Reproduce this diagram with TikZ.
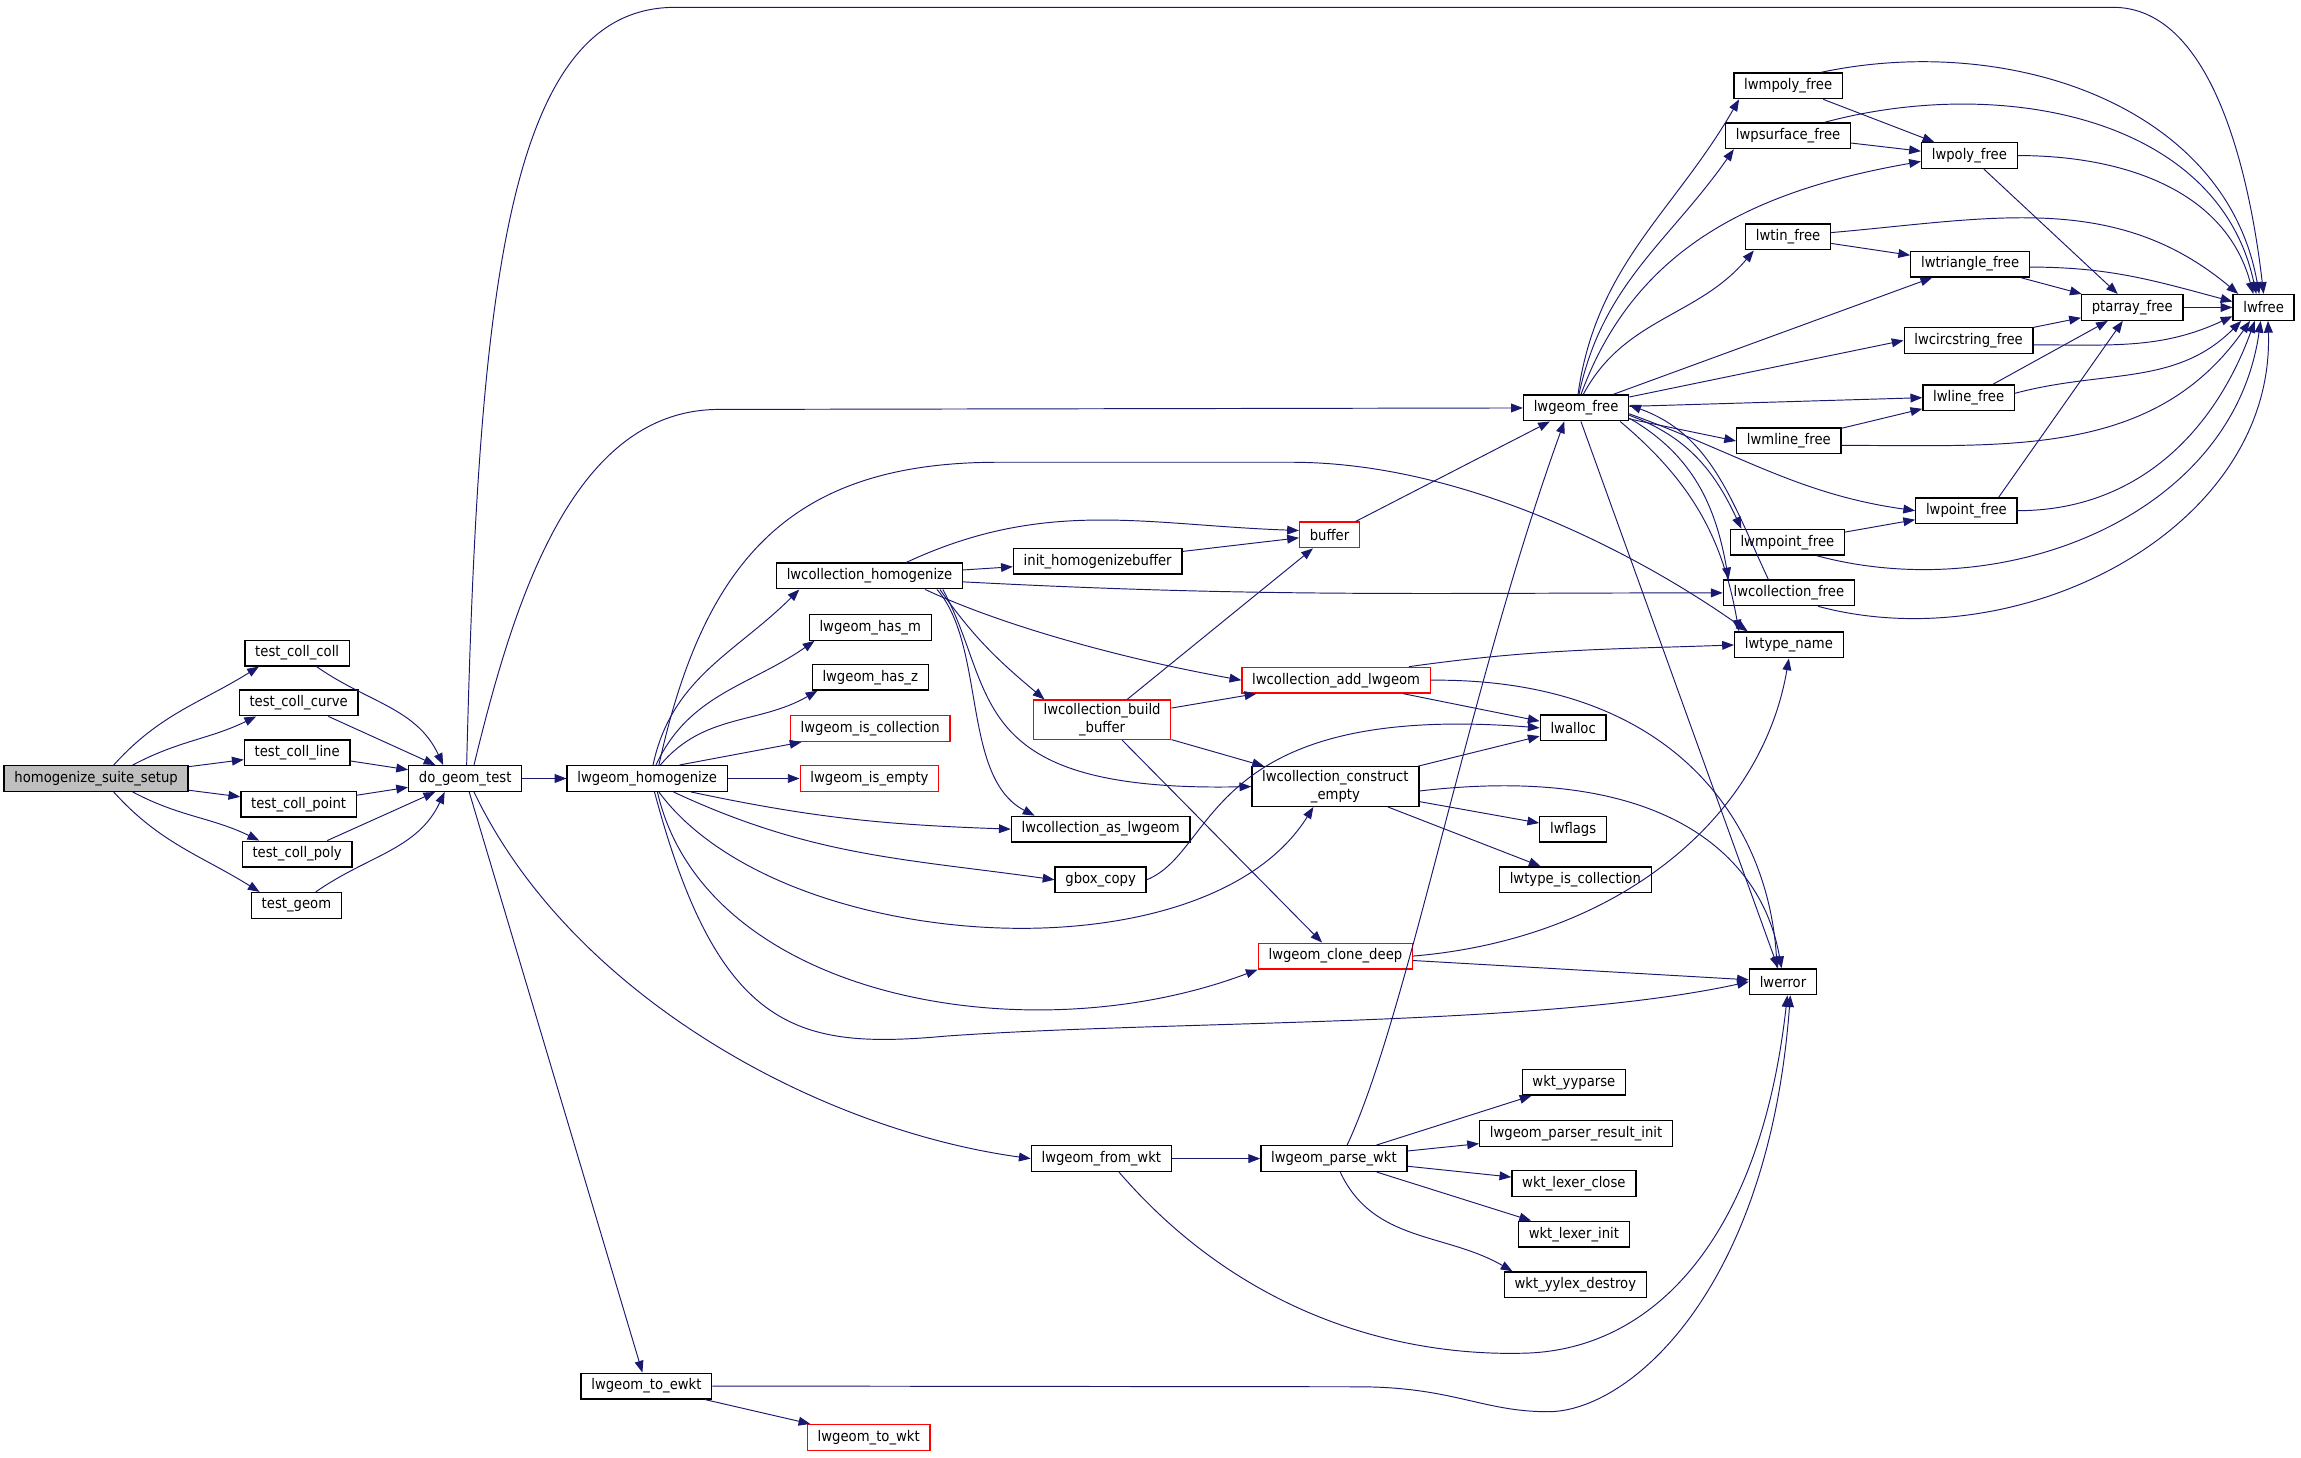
\documentclass[tikz,border=0pt]{standalone}
\usepackage{fontspec}
\setmainfont{DejaVu Sans}[FakeStretch=0.9]
\usepackage{xcolor}
\usetikzlibrary{arrows, arrows.meta}
\usetikzlibrary{calc}
\definecolor{edgeblue}{HTML}{191970}
\definecolor{rootgray}{HTML}{BFBFBF}

\begin{document}
\begin{tikzpicture}[x=1pt, y=1pt,
    fn/.style={draw=black, fill=white, line width=0.9pt, inner xsep=7pt, inner ysep=2pt, minimum height=17.5pt, font=\fontsize{10}{12}\selectfont},
    fnred/.style={fn, draw=red},
    twoline/.style={align=center, inner ysep=2.5pt},
    call/.style={draw=edgeblue, line width=0.65pt, -{Triangle[length=8pt, width=6pt]}}]
    \fill[white] (0,0) rectangle (1568,-992.9);

    \node[fn, fill=rootgray] (setup) at (65.5,-530.5) {homogenize\_suite\_setup};
    \node[fn] (tcoll) at (202.5,-445) {test\_coll\_coll};
    \node[fn] (tcurve) at (203.5,-479) {test\_coll\_curve};
    \node[fn] (tline) at (202.5,-513) {test\_coll\_line};
    \node[fn] (tpoint) at (203.5,-548) {test\_coll\_point};
    \node[fn] (tpoly) at (202.5,-582) {test\_coll\_poly};
    \node[fn] (tgeom) at (202,-617) {test\_geom};
    \node[fn] (dotest) at (317,-530.5) {do\_geom\_test};
    \node[fn] (homog) at (441,-530.5) {lwgeom\_homogenize};
    \node[fn] (chomog) at (592.5,-392.5) {lwcollection\_homogenize};
    \node[fn] (hasm) at (593,-427.5) {lwgeom\_has\_m};
    \node[fn] (hasz) at (593,-461.5) {lwgeom\_has\_z};
    \node[fnred] (iscoll) at (593,-496.5) {lwgeom\_is\_collection};
    \node[fnred] (isempty) at (592.5,-530.5) {lwgeom\_is\_empty};
    \node[fn] (asgeom) at (750,-565) {lwcollection\_as\_lwgeom};
    \node[fn] (gbox) at (750,-599.5) {gbox\_copy};
    \node[fn] (initbuf) at (748,-382.5) {init\_homogenizebuffer};
    \node[fnred] (buffer) at (906,-364.5) {buffer};
    \node[fnred, twoline] (buildbuf) at (751,-490.5) {lwcollection\_build\\\_buffer};
    \node[fnred] (addgeom) at (910.5,-463.5) {lwcollection\_add\_lwgeom};
    \node[fn, twoline] (construct) at (910,-536) {lwcollection\_construct\\\_empty};
    \node[fnred] (clone) at (910,-651.5) {lwgeom\_clone\_deep};
    \node[fn] (gfree) at (1074,-278) {lwgeom\_free};
    \node[fn] (mpoly) at (1218.5,-58.5) {lwmpoly\_free};
    \node[fn] (psurf) at (1218.5,-92.5) {lwpsurface\_free};
    \node[fn] (poly) at (1342,-106) {lwpoly\_free};
    \node[fn] (tin) at (1218.5,-161.5) {lwtin\_free};
    \node[fn] (tri) at (1342.5,-180) {lwtriangle\_free};
    \node[fn] (ptarr) at (1453,-209.5) {ptarray\_free};
    \node[fn] (lwfree) at (1542.5,-209.5) {lwfree};
    \node[fn] (circ) at (1341.5,-232) {lwcircstring\_free};
    \node[fn] (line) at (1341.5,-271) {lwline\_free};
    \node[fn] (mline) at (1219,-300.5) {lwmline\_free};
    \node[fn] (point) at (1340,-348) {lwpoint\_free};
    \node[fn] (mpoint) at (1218,-369.5) {lwmpoint\_free};
    \node[fn] (cfree) at (1219,-404) {lwcollection\_free};
    \node[fn] (tname) at (1219,-439.5) {lwtype\_name};
    \node[fn] (alloc) at (1072,-496) {lwalloc};
    \node[fn] (flags) at (1072,-565) {lwflags};
    \node[fn] (typecoll) at (1073.5,-599.5) {lwtype\_is\_collection};
    \node[fn] (lwerr) at (1215,-669) {lwerror};
    \node[fn] (fromwkt) at (750.5,-789.5) {lwgeom\_from\_wkt};
    \node[fn] (parse) at (909,-789.5) {lwgeom\_parse\_wkt};
    \node[fn] (yyparse) at (1072.5,-737.5) {wkt\_yyparse};
    \node[fn] (prinit) at (1074,-772.5) {lwgeom\_parser\_result\_init};
    \node[fn] (lexclose) at (1072.5,-806.5) {wkt\_lexer\_close};
    \node[fn] (lexinit) at (1072.5,-841) {wkt\_lexer\_init};
    \node[fn] (yylex) at (1073.5,-875.5) {wkt\_yylex\_destroy};
    \node[fn] (toewkt) at (440.5,-944.5) {lwgeom\_to\_ewkt};
    \node[fnred] (towkt) at (592,-979.5) {lwgeom\_to\_wkt};

    \draw[call] ([xshift=12pt]setup.north) to[out=48,in=212] ([xshift=10pt]tcoll.south west);
    \draw[call] ([xshift=25pt]setup.north) to[out=28,in=206] ([xshift=12pt]tcurve.south west);
    \draw[call] (setup) -- (tline);
    \draw[call] (setup) -- (tpoint);
    \draw[call] ([xshift=25pt]setup.south) to[out=-28,in=154] ([xshift=12pt]tpoly.north west);
    \draw[call] ([xshift=12pt]setup.south) to[out=-48,in=148] ([xshift=6pt]tgeom.north west);

    \draw[call] (tcoll) to[out=-35,in=115] ([xshift=-15pt]dotest.north);
    \draw[call] (tcurve) -- (dotest);
    \draw[call] (tline) -- (dotest);
    \draw[call] (tpoint) -- (dotest);
    \draw[call] (tpoly) -- (dotest);
    \draw[call] (tgeom) to[out=35,in=-115] ([xshift=-14pt]dotest.south);

    \draw[call] (dotest) -- (homog);
    \draw[call] ([xshift=1pt]dotest.north) .. controls (326,-200) and (345,-5) .. (460,-5) -- (1440,-5) .. controls (1505,-5) and (1532,-110) .. (lwfree.north);
    \draw[call] ([xshift=6pt]dotest.north) .. controls (350,-410) and (390,-279) .. (490,-279) -- (gfree.west);
    \draw[call] ([xshift=6pt]dotest.south) .. controls (390,-680) and (560,-770) .. (fromwkt.west);
    \draw[call] (dotest) -- (toewkt);

    \draw[call] ([xshift=4pt]homog.north) to[out=78,in=225] ([xshift=16pt]chomog.south west);
    \draw[call] ([xshift=6pt]homog.north) to[out=65,in=215] ([xshift=4pt]hasm.south west);
    \draw[call] ([xshift=9pt]homog.north) to[out=50,in=210] ([xshift=4pt]hasz.south west);
    \draw[call] ([xshift=22pt]homog.north) -- ([xshift=8pt]iscoll.south west);
    \draw[call] (homog) -- (isempty);
    \draw[call] ([xshift=30pt]homog.south) to[out=-12,in=178] (asgeom.west);
    \draw[call] ([xshift=18pt]homog.south) to[out=-25,in=172] (gbox.west);
    \draw[call] ([xshift=8pt]homog.south) .. controls (530,-650) and (820,-670) .. ([xshift=-15pt]construct.south);
    \draw[call] ([xshift=7pt]homog.south) .. controls (480,-680) and (700,-720) .. (clone.south west);
    \draw[call] ([xshift=5pt]homog.south) .. controls (490,-705) and (545,-715) .. (645,-706) .. controls (800,-695) and (1050,-700) .. (lwerr.west);
    \draw[call] ([xshift=8pt]homog.north) .. controls (480,-380) and (540,-315) .. (680,-315) -- (880,-315) .. controls (1000,-315) and (1120,-380) .. ([xshift=-28pt]tname.north);

    \draw[call] ([xshift=25pt]chomog.north) to[out=25,in=178] ([yshift=3pt]buffer.west);
    \draw[call] (chomog) -- (initbuf);
    \draw[call] ([yshift=-4pt]chomog.east) to[out=-3,in=180] (cfree.west);
    \draw[call] ([xshift=38pt]chomog.south) .. controls (680,-425) and (760,-448) .. (addgeom.west);
    \draw[call] ([xshift=48pt]chomog.south) to[out=-55,in=140] ([xshift=8pt]buildbuf.north west);
    \draw[call] ([xshift=46pt]chomog.south) .. controls (672,-440) and (655,-530) .. ([xshift=-45pt]asgeom.north);
    \draw[call] ([xshift=50pt]chomog.south) .. controls (680,-470) and (655,-540) .. (construct.west);

    \draw[call] (initbuf) -- ([yshift=-2pt]buffer.west);
    \draw[call] (buffer) -- (gfree);
    \draw[call] (buildbuf) -- (buffer);
    \draw[call] (buildbuf) -- (addgeom);
    \draw[call] (buildbuf) -- (construct);
    \draw[call] (buildbuf) -- (clone);

    \draw[call] ([xshift=-15pt]addgeom.north east) to[out=8,in=182] (tname.west);
    \draw[call] (addgeom) -- (alloc);
    \draw[call] (addgeom.east) .. controls (1140,-462) and (1205,-560) .. ([xshift=-4pt]lwerr.north);
    \draw[call] (construct) -- (alloc);
    \draw[call] (construct) -- (flags);
    \draw[call] (construct) -- (typecoll);
    \draw[call] ([yshift=-3pt]construct.east) .. controls (1130,-520) and (1200,-580) .. ([xshift=-1pt]lwerr.north);
    \draw[call] (gbox.east) .. controls (830,-580) and (820,-478) .. (alloc.west);
    \draw[call] (clone.east) .. controls (1100,-640) and (1200,-560) .. (tname.south);
    \draw[call] (clone) -- (lwerr);

    \draw[call] (gfree) to[out=82,in=240] ([xshift=4pt]mpoly.south west);
    \draw[call] (gfree) to[out=78,in=235] ([xshift=6pt]psurf.south west);
    \draw[call] (gfree) to[out=70,in=190] ([yshift=-4pt]poly.west);
    \draw[call] (gfree) to[out=62,in=230] ([xshift=6pt]tin.south west);
    \draw[call] (gfree) -- ([xshift=15pt]tri.south west);
    \draw[call] (gfree) -- (circ.west);
    \draw[call] (gfree) -- (line.west);
    \draw[call] (gfree) -- (mline.west);
    \draw[call] ([yshift=-4pt]gfree.east) to[out=-20,in=172] (point.west);
    \draw[call] ([yshift=-5pt]gfree.east) to[out=-20,in=115] ([xshift=8pt]mpoint.north west);
    \draw[call] ([yshift=-7pt]gfree.east) to[out=-30,in=100] ([xshift=4pt]cfree.north west);
    \draw[call] ([xshift=30pt]gfree.south) to[out=-40,in=100] ([xshift=-34pt]tname.north);
    \draw[call] ([xshift=-14pt]cfree.north) to[out=115,in=-20] ([yshift=2pt]gfree.east);
    \draw[call] (gfree) -- (lwerr);

    \draw[call] (mpoly) -- (poly);
    \draw[call] ([xshift=-15pt]mpoly.north east) to[out=12,in=100] ([xshift=-3pt]lwfree.north);
    \draw[call] (psurf) -- ([yshift=3pt]poly.west);
    \draw[call] ([xshift=-18pt]psurf.north east) to[out=15,in=102] ([xshift=-5pt]lwfree.north);
    \draw[call] (poly) -- (ptarr);
    \draw[call] (poly.east) to[out=0,in=105] ([xshift=-7pt]lwfree.north);
    \draw[call] (tin) -- (tri);
    \draw[call] ([yshift=3pt]tin.east) to[out=5,in=140] ([xshift=4pt]lwfree.north west);
    \draw[call] (tri) -- (ptarr);
    \draw[call] ([yshift=-2pt]tri.east) to[out=0,in=165] ([yshift=4pt]lwfree.west);
    \draw[call] (circ) -- (ptarr);
    \draw[call] ([yshift=-3pt]circ.east) to[out=0,in=205] ([yshift=-6pt]lwfree.west);
    \draw[call] (line) -- (ptarr);
    \draw[call] ([yshift=3pt]line.east) to[out=15,in=225] ([xshift=6pt]lwfree.south west);
    \draw[call] (mline) -- (line);
    \draw[call] ([yshift=-3pt]mline.east) to[out=0,in=235] ([xshift=12pt]lwfree.south west);
    \draw[call] ([xshift=22pt]point.north) -- (ptarr);
    \draw[call] (point.east) to[out=0,in=250] ([xshift=-6pt]lwfree.south);
    \draw[call] (mpoint) -- (point);
    \draw[call] ([xshift=20pt]mpoint.south) to[out=-15,in=262] ([xshift=-2pt]lwfree.south);
    \draw[call] ([xshift=20pt]cfree.south) to[out=-15,in=272] ([xshift=3pt]lwfree.south);
    \draw[call] (ptarr) -- (lwfree);

    \draw[call] (fromwkt) -- (parse);
    \draw[call] ([xshift=12pt]fromwkt.south) .. controls (850,-900) and (960,-925) .. (1042,-922) .. controls (1130,-918) and (1200,-840) .. ([xshift=3pt]lwerr.south);
    \draw[call] ([xshift=9pt]parse.north) .. controls (960,-690) and (1000,-470) .. ([xshift=-8pt]gfree.south);
    \draw[call] (parse) -- (yyparse);
    \draw[call] (parse) -- (prinit);
    \draw[call] (parse) -- (lexclose);
    \draw[call] (parse) -- (lexinit);
    \draw[call] (parse) to[out=-65,in=150] ([xshift=6pt]yylex.north west);

    \draw[call] (toewkt.east) -- (925,-945) .. controls (990,-945) and (1010,-962) .. (1055,-962) .. controls (1110,-962) and (1205,-880) .. ([xshift=5pt]lwerr.south);
    \draw[call] (toewkt) -- (towkt);
\end{tikzpicture}
\end{document}
